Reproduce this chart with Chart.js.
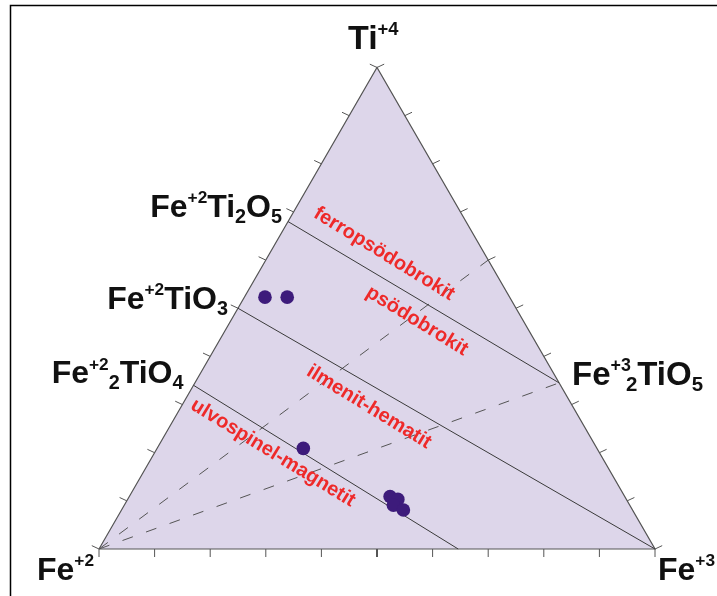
<!DOCTYPE html>
<html lang="en">
<head>
  <meta charset="UTF-8" />
  <title>Fe-Ti oxide ternary</title>
  <script src="https://cdn.jsdelivr.net/npm/chart.js"></script>
  <style>
    body { margin: 0; background: #fff; }
    #wrap { width: 717px; height: 596px; }
  </style>
</head>
<body>
<div id="wrap"><canvas id="ternary" width="717" height="596"></canvas></div>
<script>
  // compositions in percent: Fe+3 and Ti+4, Fe+2 is the remainder
  const sampleFe3 = [3.7, 7.7, 26.3, 46.9, 48.6, 48.4, 50.7];
  const sampleTi  = [52.3, 52.3, 20.9, 10.9, 10.3, 9.1, 8.1];

  // solid joins, start on the Fe+2 - Ti edge
  const joinFromFe3 = [0, 0, 0];
  const joinFromTi  = [68, 50, 34];
  const joinToFe3   = [65.5, 100, 64.6];
  const joinToTi    = [34.5, 0, 0];

  // dashed lines out of the Fe+2 corner
  const dashToFe3 = [40, 65.5];
  const dashToTi  = [60, 34.5];

  const tickSteps = [0, 10, 20, 30, 40, 50, 60, 70, 80, 90, 100];
  const fieldNames = ['ferropsödobrokit', 'psödobrokit', 'ilmenit-hematit', 'ulvospinel-magnetit'];

  const H = Math.sqrt(3) / 2;
  function tern(fe3, ti) {
    return { x: (fe3 + ti / 2) / 100, y: ti / 100 * H };
  }

  // where the triangle sits on the page
  const corner = { left: 99, base: 549, side: 556 };

  const datasets = [];

  datasets.push({
    label: 'samples',
    data: sampleFe3.map((f, i) => tern(f, sampleTi[i])),
    showLine: false,
    pointRadius: 6.8,
    pointBackgroundColor: '#3d1b7b',
    pointBorderWidth: 0,
    order: 0
  });

  joinFromFe3.forEach((f, i) => {
    datasets.push({
      label: 'join' + i,
      data: [tern(f, joinFromTi[i]), tern(joinToFe3[i], joinToTi[i])],
      showLine: true,
      borderColor: '#3a3a3a',
      borderWidth: 1,
      pointRadius: 0,
      order: 1
    });
  });

  dashToFe3.forEach((f, i) => {
    datasets.push({
      label: 'dash' + i,
      data: [tern(0, 0), tern(f, dashToTi[i])],
      showLine: true,
      borderColor: '#555',
      borderWidth: 1,
      borderDash: [11, 14],
      pointRadius: 0,
      order: 2
    });
  });

  datasets.push({
    label: 'triangle',
    data: [tern(0, 0), tern(100, 0), tern(0, 100), tern(0, 0)],
    showLine: true,
    borderColor: '#555',
    borderWidth: 1.2,
    backgroundColor: '#ddd6ea',
    fill: 'shape',
    pointRadius: 0,
    order: 5
  });

  // draws a formula with super/subscripts
  function chem(ctx, parts, x, y, size, align) {
    const font = s => 'bold ' + s + 'px "Liberation Sans", Arial, sans-serif';
    let w = 0;
    parts.forEach(p => {
      const s = p[1] === 'n' ? size : (p[1] === 'sup' ? size * 0.54 : size * 0.62);
      ctx.font = font(s);
      p.w = ctx.measureText(p[0]).width;
      p.s = s;
      w += p.w - (p[2] || 0);
    });
    let cx = align === 'right' ? x - w : x;
    ctx.textAlign = 'left';
    ctx.textBaseline = 'alphabetic';
    ctx.fillStyle = '#111';
    parts.forEach(p => {
      cx -= (p[2] || 0);
      ctx.font = font(p.s);
      let dy = 0;
      if (p[1] === 'sup') dy = -size * 0.43;
      if (p[1] === 'sub') dy = size * 0.19;
      ctx.fillText(p[0], cx, y + dy);
      cx += p.w;
    });
  }

  const ternaryDecor = {
    id: 'ternaryDecor',
    beforeDraw(chart) {
      const ctx = chart.ctx;
      ctx.save();
      ctx.strokeStyle = '#000';
      ctx.lineWidth = 1.5;
      ctx.beginPath();
      ctx.moveTo(10.5, 596);
      ctx.lineTo(10.5, 5.5);
      ctx.lineTo(717, 5.5);
      ctx.stroke();
      ctx.restore();
    },
    afterDatasetsDraw(chart) {
      const ctx = chart.ctx;
      const sx = chart.scales.x, sy = chart.scales.y;
      const px = p => [sx.getPixelForValue(p.x), sy.getPixelForValue(p.y)];
      ctx.save();

      // ticks on the three sides, pointing outwards
      const sides = [
        { at: s => tern(s, 0), n: [0, 1] },
        { at: s => tern(0, s), n: [-0.9, -0.42] },
        { at: s => tern(100 - s, s), n: [0.9, -0.42] }
      ];
      ctx.strokeStyle = '#555';
      sides.forEach((side, k) => {
        tickSteps.forEach(s => {
          const [x, y] = px(side.at(s));
          ctx.lineWidth = (k === 0 && s === 50) ? 2 : 1;
          ctx.beginPath();
          ctx.moveTo(x, y);
          ctx.lineTo(x + side.n[0] * 8, y + side.n[1] * 8);
          ctx.stroke();
        });
      });

      // corner and phase labels
      const [tx, ty] = px(tern(0, 100));
      chem(ctx, [['Ti', 'n'], ['+4', 'sup']], tx - 29, ty - 18, 34, 'left');
      let [ax, ay] = px(tern(0, joinFromTi[0]));
      chem(ctx, [['Fe', 'n'], ['+2', 'sup'], ['Ti', 'n'], ['2', 'sub'], ['O', 'n'], ['5', 'sub']], ax - 6, ay - 5, 32, 'right');
      [ax, ay] = px(tern(0, joinFromTi[1]));
      chem(ctx, [['Fe', 'n'], ['+2', 'sup'], ['TiO', 'n'], ['3', 'sub']], ax - 10, ay + 1, 32, 'right');
      [ax, ay] = px(tern(0, joinFromTi[2]));
      chem(ctx, [['Fe', 'n'], ['+2', 'sup'], ['2', 'sub'], ['TiO', 'n'], ['4', 'sub']], ax - 10, ay - 2, 32, 'right');
      [ax, ay] = px(tern(joinToFe3[0], joinToTi[0]));
      chem(ctx, [['Fe', 'n'], ['+3', 'sup'], ['2', 'sub', 5], ['TiO', 'n'], ['5', 'sub']], ax + 13, ay + 2, 33, 'left');
      [ax, ay] = px(tern(0, 0));
      chem(ctx, [['Fe', 'n'], ['+2', 'sup']], ax - 5, ay + 31, 32, 'right');
      [ax, ay] = px(tern(100, 0));
      chem(ctx, [['Fe', 'n'], ['+3', 'sup']], ax + 3, ay + 31, 32, 'left');

      // stability field names along the joins
      const fieldPos = [[384, 254], [417, 321], [369, 407], [273, 453]];
      ctx.fillStyle = '#ee2a2a';
      ctx.font = 'bold 20px "Liberation Sans", Arial, sans-serif';
      ctx.textAlign = 'center';
      ctx.textBaseline = 'middle';
      fieldNames.forEach((name, i) => {
        ctx.save();
        ctx.translate(fieldPos[i][0], fieldPos[i][1]);
        ctx.rotate(31.5 * Math.PI / 180);
        ctx.fillText(name, 0, 0);
        ctx.restore();
      });
      ctx.restore();
    }
  };

  const chart = new Chart(document.getElementById('ternary'), {
    type: 'scatter',
    data: { datasets: datasets },
    options: {
      responsive: false,
      animation: false,
      layout: { padding: 0 },
      plugins: { legend: { display: false }, tooltip: { enabled: false } },
      scales: {
        x: { type: 'linear', min: 0, max: 1, display: false },
        y: { type: 'linear', min: 0, max: 1, display: false }
      }
    },
    plugins: [ternaryDecor]
  });

  // fit the scale ranges to the chart area so one data unit = corner.side pixels
  const area = chart.chartArea;
  const xMin = -(corner.left - area.left) / corner.side;
  const yMin = -(area.bottom - corner.base) / corner.side;
  chart.options.scales.x.min = xMin;
  chart.options.scales.x.max = xMin + (area.right - area.left) / corner.side;
  chart.options.scales.y.min = yMin;
  chart.options.scales.y.max = yMin + (area.bottom - area.top) / corner.side;
  chart.update();
</script>
</body>
</html>
